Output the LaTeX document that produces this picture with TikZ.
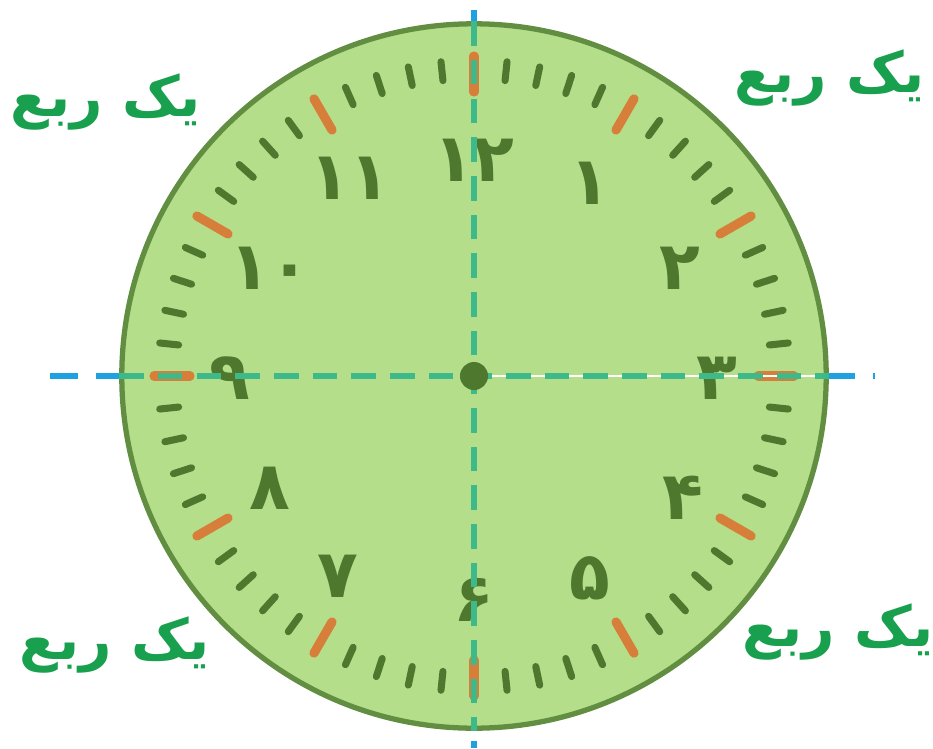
\documentclass[tikz,border=0pt]{standalone}
\usepackage{fontspec}
\newfontfamily\arabicfont[Script=Arabic]{DejaVu Sans}
\TeXXeTstate=1
\usetikzlibrary{positioning}
\definecolor{clockfill}{RGB}{181,222,138}
\definecolor{clockrim}{RGB}{98,142,66}
\definecolor{tickgreen}{RGB}{78,120,46}
\definecolor{tickorange}{RGB}{214,126,58}
\definecolor{axisblue}{RGB}{30,160,225}
\definecolor{axisteal}{RGB}{62,186,138}
\definecolor{labelgreen}{RGB}{24,160,78}

\begin{document}
\begin{tikzpicture}[
  x=0.01cm, y=-0.01cm,
  face/.style={circle, draw=clockrim, line width=1.5pt, fill=clockfill,
               minimum size=7.04cm, inner sep=0pt},
  minortick/.style={tickgreen, line width=2pt, line cap=round},
  hourtick/.style={tickorange, line width=2.6pt, line cap=round},
  outeraxis/.style={axisblue, line width=1.6pt, dash pattern=on 8pt off 5pt},
  inneraxis/.style={axisteal, line width=1.5pt, dash pattern=on 7pt off 4pt},
  digit/.style={text=tickgreen, font=\fontsize{19}{21}\arabicfont\bfseries},
  quarter/.style={text=labelgreen, font=\fontsize{16}{19}\arabicfont\bfseries}
]
\useasboundingbox (0,0) rectangle (933,748);

% outer axes
\coordinate (W) at (50,376);
\coordinate (E) at (875,376);
\coordinate (N) at (474,10);
\coordinate (S) at (474,748);
\draw[outeraxis] (W) -- (E);
\draw[outeraxis] (N) -- (S);

\node[face] (clock) at (474,376) {};

% minute ticks
\foreach \h in {0,...,11}
  \foreach \k in {1,...,4}
    \draw[minortick] (clock.center) ++({30*\h+6*\k}:297) -- ++({30*\h+6*\k}:19);
% hour ticks
\foreach \h in {0,...,11}
  \draw[hourtick] (clock.center) ++({30*\h}:284) -- ++({30*\h}:36);

% hour numbers
\foreach \n/\px/\py in {۱۲/474/160, ۱/590/183, ۲/680/268, ۳/717/378,
                        ۴/683/498, ۵/590/578, ۶/474/600, ۷/338/576,
                        ۸/270/488, ۹/230/378, ۱۰/270/268, ۱۱/350/178}
  \node[digit] (d\px) at (\px,\py) {\n};

% inner axes
\draw[white, line width=0.8pt] (clock.center) -- (clock.east);
\draw[inneraxis] (clock.west) -- (clock.east);
\draw[inneraxis] (clock.north) -- (clock.south);
\node[circle, fill=tickgreen, minimum size=0.28cm, inner sep=0pt] (hub) at (clock.center) {};

% quarter labels
\node[quarter] (qTL) at (106,102) {\beginR یک ربع\endR};
\node[quarter] (qTR) at (830,78) {\beginR یک ربع\endR};
\node[quarter] (qBL) at (115,645) {\beginR یک ربع\endR};
\node[quarter] (qBR) at (838,632) {\beginR یک ربع\endR};
\end{tikzpicture}
\end{document}
